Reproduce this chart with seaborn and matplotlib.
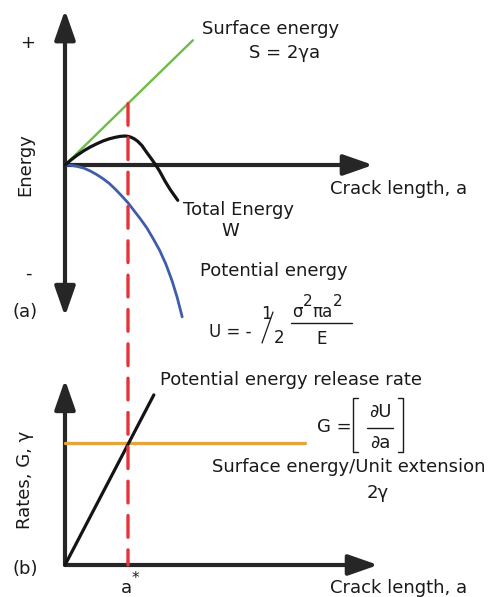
import matplotlib
matplotlib.use("Agg")
import matplotlib.pyplot as plt
from matplotlib.lines import Line2D
from matplotlib.patches import ConnectionPatch
import seaborn as sns

# crack length a is measured in units of the critical length a*
a_surface = [0.0, 2.03]
surface_energy = [0.0, 1.98]          # S = 2*gamma*a

a_total = [0.0, 0.1, 0.2, 0.3, 0.4, 0.5, 0.6, 0.7, 0.8, 0.88, 0.95, 1.0,
           1.05, 1.1, 1.15, 1.22, 1.30, 1.37, 1.43, 1.50, 1.59, 1.67, 1.74,
           1.79]
total_energy = [0.0, 0.085, 0.16, 0.227, 0.285, 0.335, 0.38, 0.415, 0.44,
                0.455, 0.46, 0.455, 0.44, 0.415, 0.38, 0.31, 0.195, 0.10,
                0.015, -0.095, -0.26, -0.39, -0.49, -0.56]   # W

a_potential = [0.0, 0.1, 0.2, 0.3, 0.4, 0.5, 0.6, 0.7, 0.8, 0.9, 1.0, 1.1,
               1.2, 1.3, 1.4, 1.5, 1.6, 1.7, 1.78, 1.86]
potential_energy = [0.0, -0.006, -0.024, -0.05, -0.095, -0.15, -0.215,
                    -0.29, -0.385, -0.49, -0.60, -0.73, -0.86, -1.00, -1.17,
                    -1.35, -1.57, -1.84, -2.10, -2.41]   # U

a_release = [0.0, 1.41]
release_rate = [0.0, 2.70]            # G = dU/da

a_gamma = [0.0, 3.81]
gamma_rate = [1.94, 1.94]             # 2*gamma

a_star = 1.0

GREEN = "#6cbd45"
BLUE = "#3f5da8"
BLACK = "#141414"
ORANGE = "#e3a53c"
RED = "#e5333a"
AXIS = "#262626"
TEXT = "#1a1a1a"

W, H = 491, 597
PX = 63.0  # pixels per unit

sns.set_theme(style="white")
plt.rcParams["font.family"] = ["DejaVu Sans"]

fig = plt.figure(figsize=(W / 100, H / 100), dpi=100)
fig.patch.set_facecolor("white")

ax_top = fig.add_axes([0, 267 / H, 1, 330 / H])
ax_bot = fig.add_axes([0, 0, 1, 267 / H])
for ax in (ax_top, ax_bot):
    ax.set_xlim(-65 / PX, 426 / PX)
    ax.axis("off")
ax_top.set_ylim(-165 / PX, 165 / PX)
ax_bot.set_ylim(-32 / PX, 235 / PX)


def axis_arrow(ax, start, end, style="-|>"):
    ax.annotate("", xy=end, xytext=start, annotation_clip=False,
                arrowprops=dict(arrowstyle=style + ",head_length=0.4,head_width=0.14",
                                mutation_scale=45, lw=3, color=AXIS,
                                shrinkA=0, shrinkB=0), zorder=1)


# axes of the diagram
axis_arrow(ax_top, (0, -2.40), (0, 2.46), "<|-|>")
axis_arrow(ax_top, (0, 0), (4.89, 0))
axis_arrow(ax_bot, (0, 0), (0, 2.94))
axis_arrow(ax_bot, (0, 0), (4.97, 0))

# (a) energies
sns.lineplot(x=a_surface, y=surface_energy, ax=ax_top, color=GREEN, lw=1.7, zorder=3)
sns.lineplot(x=a_potential, y=potential_energy, ax=ax_top, color=BLUE, lw=2.0, zorder=3)
sns.lineplot(x=a_total, y=total_energy, ax=ax_top, color=BLACK, lw=2.3, zorder=3)

# (b) rates
sns.lineplot(x=a_gamma, y=gamma_rate, ax=ax_bot, color=ORANGE, lw=2.4, zorder=3)
sns.lineplot(x=a_release, y=release_rate, ax=ax_bot, color=BLACK, lw=2.3, zorder=3)

# critical crack length marker across both panels
s_star = surface_energy[1] / a_surface[1] * a_star
con = ConnectionPatch(xyA=(a_star, s_star), coordsA=ax_top.transData,
                      xyB=(a_star, 0), coordsB=ax_bot.transData,
                      color=RED, lw=2.4, linestyle=(0, (6.5, 3.8)), zorder=5)
fig.add_artist(con)


def label(x, y, s, size=13, **kw):
    kw.setdefault("va", "center")
    fig.text(x / W, 1 - y / H, s, fontsize=size, color=TEXT, **kw)


def stroke(xs, ys, lw=1.0):
    fig.add_artist(Line2D([x / W for x in xs], [1 - y / H for y in ys],
                          transform=fig.transFigure, color=TEXT, lw=lw))


label(202, 29, "Surface energy")
label(249, 53, "S = 2γa")
label(28, 43, "+", ha="center")
label(28, 274, "-", ha="center")
label(25, 165, "Energy", ha="center", rotation=90)
label(12, 312, "(a)")
label(330, 189, "Crack length, a")
label(183, 210, "Total Energy")
label(230, 231, "W", ha="center")
label(200, 271, "Potential energy")

# U = -1/2 * sigma^2 pi a^2 / E
label(209, 332, "U = -", size=12)
label(266, 314, "1", ha="center", size=12)
stroke([262, 273], [343, 312], lw=0.9)
label(279, 338, "2", ha="center", size=12)
label(292, 312, "σ", size=12)
label(303, 301, "2", size=11)
label(312, 312, "πa", size=12)
label(333, 301, "2", size=11)
stroke([291, 352], [323, 323], lw=1.0)
label(322, 339, "E", ha="center", size=12)

label(160, 380, "Potential energy release rate")

# G = [dU/da]
label(317, 427, "G =")
label(380, 412, "∂U", ha="center")
stroke([367, 393], [428, 428], lw=1.0)
label(380, 443, "∂a", ha="center")
stroke([358, 353, 353, 358], [398, 398, 452, 452], lw=1.0)
stroke([398, 403, 403, 398], [398, 398, 452, 452], lw=1.0)

label(212, 467, "Surface energy/Unit extension")
label(378, 493, "2γ", ha="center")
label(25, 480, "Rates, G, γ", ha="center", rotation=90)
label(12, 569, "(b)")
label(126, 588, "a", ha="center")
label(135, 578, "*", ha="center", size=11)
label(330, 588, "Crack length, a")

fig.savefig("out.png", dpi=100, facecolor="white")
